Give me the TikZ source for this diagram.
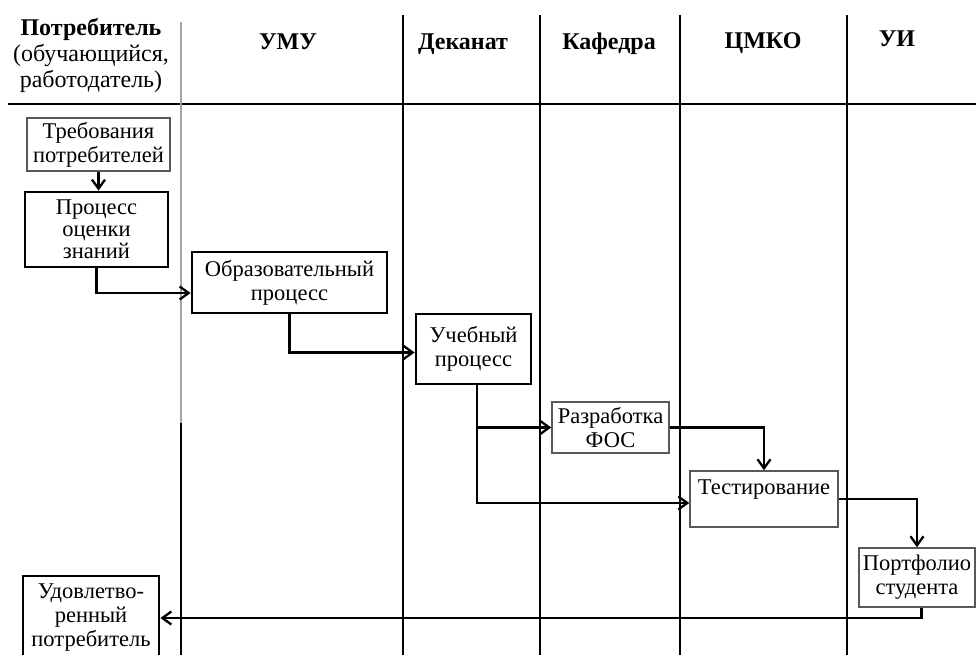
\documentclass[tikz,border=0pt]{standalone}
\usepackage{fontspec}
\setmainfont{Liberation Serif}
\usetikzlibrary{arrows.meta,positioning}

\begin{document}
\begin{tikzpicture}[
  x=1pt, y=-1pt,
  every node/.style={font=\fontsize{22.5}{24}\selectfont, align=center, inner sep=0pt},
  lane/.style={line width=2.4pt},
  head/.style={font=\fontsize{24}{25}\selectfont\bfseries, text height=17pt, text depth=5pt},
  proc/.style={draw, line width=2.8pt},
  task/.style={draw=black!65, line width=1.5pt},
  flow/.style={draw, line width=2.3pt, -{Straight Barb[length=9pt,width=13pt,line width=2.3pt]}},
]
\useasboundingbox (0,0) rectangle (976,655);
\clip (0,0) rectangle (976,655);

\draw[lane] (8,104) -- (976,104);
\draw[lane, gray!70, line width=1.5pt] (181,22) -- (181,423);
\draw[lane, line width=2.6pt] (181,423) -- (181,655);
\foreach \x in {403,540,680,847}
  \draw[lane] (\x,15) -- (\x,655);

\node[font=\fontsize{24}{26}\selectfont] (hcons) at (91,55) {\textbf{Потребитель}\\(обучающийся,\\работодатель)};
\node[head] (humu) at (288,44) {УМУ};
\node[head] (hdek) at (463,44) {Деканат};
\node[head] (hkaf) at (609,44) {Кафедра};
\node[head] (hcmko) at (763,43) {ЦМКО};
\node[head] (hui) at (897,41) {УИ};

\node[task, minimum width=143pt, minimum height=53pt] (treb) at (98.5,144.5) {Требования\\потребителей};
\node[proc, minimum width=143pt, minimum height=75pt, font=\fontsize{22.5}{22}\selectfont] (ocen) at (96.5,229.5) {Процесс\\оценки\\знаний};
\node[proc, minimum width=195pt, minimum height=61pt] (obraz) at (289.5,282.5) {Образовательный\\процесс};
\node[proc, minimum width=115pt, minimum height=70pt] (ucheb) at (473.5,349) {Учебный\\процесс};
\node[task, minimum width=117pt, minimum height=51pt] (razr) at (610.5,427.5) {Разработка\\ФОС};
\node[task, minimum width=148pt, minimum height=56pt] (test) at (764,499) {Тестирование\\~};
\node[task, minimum width=116pt, minimum height=59pt] (portf) at (917,577.5) {Портфолио\\студента};
\node[proc, minimum width=136pt, minimum height=84pt] (udovl) at (91,618) {Удовлетво-\\ренный\\потребитель};

\draw[flow] (treb.south) -- (treb.south |- ocen.north);
\draw[flow] (ocen.south) |- ([yshift=-10.5pt]obraz.west);
\draw[flow] (obraz.south) |- ([yshift=-3.5pt]ucheb.west);
\draw[flow] ([xshift=3.5pt]ucheb.south) |- (razr.west);
\draw[flow] ([xshift=3.5pt]ucheb.south) |- ([yshift=-4pt]test.west);
\draw[flow] (razr.east) -| (test.north);
\draw[flow] (test.east) -| (portf.north);
\draw[flow] ([xshift=4.5pt]portf.south) |- (udovl.east);
\end{tikzpicture}
\end{document}
